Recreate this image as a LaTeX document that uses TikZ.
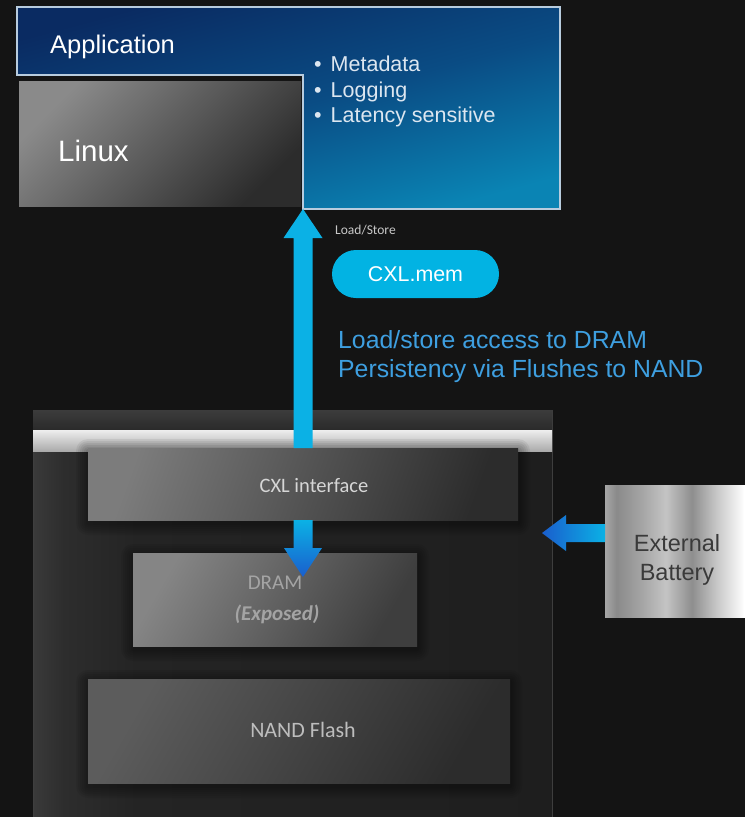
\documentclass[tikz,border=0pt]{standalone}
\usepackage{fontspec}
\setmainfont{Liberation Sans}
\newfontfamily\humanist{Carlito}
\usetikzlibrary{calc}

% palette
\definecolor{bgdark}{HTML}{141414}
\definecolor{appnavy}{HTML}{0A2B62}
\definecolor{appmid}{HTML}{0A4C84}
\definecolor{appteal}{HTML}{0A84B4}
\definecolor{appedge}{HTML}{B8CCDE}
\definecolor{bullettext}{HTML}{DCE6F0}
\definecolor{cyanflow}{HTML}{0BB1E5}
\definecolor{deepflow}{HTML}{1A5ECD}
\definecolor{pillcyan}{HTML}{02B3E3}
\definecolor{notetext}{HTML}{3E9FE0}
\definecolor{smallnote}{HTML}{C8C8C8}
\definecolor{linuxA}{HTML}{8A8A8A}
\definecolor{linuxB}{HTML}{2C2C2C}
\definecolor{chipA}{HTML}{7C7C7C}
\definecolor{chipB}{HTML}{2C2C2C}
\definecolor{dramA}{HTML}{858585}
\definecolor{dramB}{HTML}{3E3E3E}
\definecolor{nandA}{HTML}{5C5C5C}
\definecolor{nandB}{HTML}{2C2C2C}
\definecolor{chiptextA}{HTML}{D6D6D6}
\definecolor{chiptextB}{HTML}{A4A4A4}
\definecolor{chiptextC}{HTML}{BDBDBD}
\definecolor{devedge}{HTML}{3E3E3E}
\definecolor{devA}{HTML}{3A3A3A}
\definecolor{devB}{HTML}{2D2D2D}
\definecolor{devC}{HTML}{242424}
\definecolor{devD}{HTML}{1E1E1E}
\definecolor{bandtopA}{HTML}{3C3C3C}
\definecolor{bandtopB}{HTML}{2A2A2A}
\definecolor{bandlightA}{HTML}{EEEEEE}
\definecolor{bandlightB}{HTML}{ABABAB}
\definecolor{metA}{HTML}{8A8A8A}
\definecolor{metB}{HTML}{A6A6A6}
\definecolor{metC}{HTML}{C4C4C4}
\definecolor{metD}{HTML}{8E8E8E}
\definecolor{metE}{HTML}{FFFFFF}
\definecolor{batterytext}{HTML}{3A3A3A}

% enclosure body: lighter strip along the left wall
\pgfdeclarehorizontalshading{devicebody}{100bp}{%
  color(0bp)=(devA); color(25bp)=(devA); color(28bp)=(devB);
  color(35bp)=(devC); color(75bp)=(devD); color(100bp)=(devD)}
% brushed metal look of the battery pack
\pgfdeclarehorizontalshading{brushedmetal}{100bp}{%
  color(0bp)=(metB); color(25bp)=(metB); color(29bp)=(metA);
  color(38bp)=(metB); color(46bp)=(metC); color(55bp)=(metD);
  color(63bp)=(metC); color(73bp)=(metE); color(100bp)=(metE)}

% drawing layers: enclosure at the bottom, soft box shadows above it
\pgfdeclarelayer{base}
\pgfdeclarelayer{haze}
\pgfsetlayers{base,haze,main}

% soft dark halo under a named box
\newcommand\boxhaze[1]{%
  \begin{pgfonlayer}{haze}
    \foreach \s in {2,4,...,12}{%
      \fill[black, opacity=0.06, rounded corners=\s]
        ($(#1.north west)+(-\s,-\s+3)$) rectangle ($(#1.south east)+(\s,\s+3)$);}
  \end{pgfonlayer}}

\tikzset{
  slab/.style={anchor=north west, inner sep=0pt, outer sep=0pt},
  plaintext/.style={inner sep=0pt, anchor=base west},
  chiptext/.style={inner sep=0pt, anchor=base, font=\humanist\fontsize{20.5}{24}\selectfont},
  pill/.style={fill=pillcyan, rounded corners=24pt, minimum width=167, minimum height=48,
    inner sep=0pt, text=white, font=\fontsize{21.4}{25}\selectfont},
  bullet/.style={plaintext, text=bullettext, font=\fontsize{21.5}{26}\selectfont},
}

\begin{document}
\begin{tikzpicture}[x=1pt, y=-1pt]
\useasboundingbox (0,0) rectangle (745,817);

% ---- memory device enclosure ----
\begin{pgfonlayer}{base}
\fill[bgdark] (0,0) rectangle (745,817);
\node[slab, minimum width=519, minimum height=420, shade, shading=devicebody,
      draw=devedge, line width=1] (device) at (33,410) {};
\path[top color=bandtopA, bottom color=bandtopB]
  (device.north west) rectangle ($(device.north east)+(0,20)$);
\path[top color=bandlightA, bottom color=bandlightB]
  ($(device.north west)+(0,20)$) rectangle ($(device.north east)+(0,41)$);
\end{pgfonlayer}

\node[slab, minimum width=430, minimum height=72, top color=chipA, bottom color=chipB,
      shading angle=70] (cxl) at (88,448) {};
\node[slab, minimum width=284, minimum height=93, top color=dramA, bottom color=dramB,
      shading angle=60] (dram) at (133,553) {};
\node[slab, minimum width=422, minimum height=104, top color=nandA, bottom color=nandB,
      shading angle=60] (nand) at (88,679) {};
\boxhaze{cxl}
\boxhaze{dram}
\boxhaze{nand}

\node[chiptext, text=chiptextA] (cxltext) at ($(cxl.north)+(11,44)$) {CXL interface};
\node[chiptext, text=chiptextB, font=\humanist\fontsize{21}{24}\selectfont]
  (dramtext) at ($(dram.north)+(0,36)$) {DRAM};
\node[chiptext, text=chiptextB, font=\humanist\fontsize{21}{24}\selectfont\bfseries\itshape]
  (dramnote) at ($(dram.north)+(2,67)$) {(Exposed)};
\node[chiptext, text=chiptextC, font=\humanist\fontsize{22}{26}\selectfont]
  (nandtext) at ($(nand.north)+(4,58)$) {NAND Flash};

% ---- host side ----
\path[draw=appedge, line width=1.3, top color=appnavy, bottom color=appteal,
      middle color=appmid, shading angle=15]
  (17,7) -- (560,7) -- (560,209) -- (303,209) -- (303,75) -- (17,75) -- cycle;
\coordinate (appnotch) at (303,209);
\node[slab, minimum width=282, minimum height=125, top color=linuxA, bottom color=linuxB,
      shading angle=45] (linux) at (19,81) {};

\node[plaintext, text=white, font=\fontsize{25.5}{30}\selectfont] (apptext) at (50,53) {Application};
\node[plaintext, text=white, font=\fontsize{29.5}{34}\selectfont] (linuxtext) at (58,161) {Linux};
\node[bullet] (b1) at (314,71) {•\hspace{9pt}Metadata};
\node[bullet] (b2) at (314,97) {•\hspace{9pt}Logging};
\node[bullet] (b3) at (314,122) {•\hspace{9pt}Latency sensitive};

% ---- load/store path up to the host ----
\coordinate (upbase) at (appnotch |- cxl.north);
\fill[cyanflow]
  ($(upbase)+(-9.5,0)$) -- ($(appnotch)+(-9.5,29)$) -- ($(appnotch)+(-19.5,29)$) --
  (appnotch) -- ($(appnotch)+(19.5,29)$) -- ($(appnotch)+(9.5,29)$) --
  ($(upbase)+(9.5,0)$) -- cycle;

% ---- CXL interface down to DRAM ----
\coordinate (dnbase) at (appnotch |- cxl.south);
\coordinate (dntip) at ($(appnotch |- dram.north)+(0,24)$);
\path[top color=cyanflow, bottom color=deepflow]
  ($(dnbase)+(-9.5,0)$) -- ($(dntip)+(-9.5,-29)$) -- ($(dntip)+(-19,-29)$) --
  (dntip) -- ($(dntip)+(19,-29)$) -- ($(dntip)+(9.5,-29)$) --
  ($(dnbase)+(9.5,0)$) -- cycle;

\node[plaintext, text=smallnote, font=\humanist\fontsize{13.5}{16}\selectfont] (lstext) at (335,234) {Load/Store};
\node[pill] (cxlmem) at (415.5,274) {CXL.mem};
\node[plaintext, text=notetext, font=\fontsize{24.8}{29}\selectfont] (note1) at (338,348) {Load/store access to DRAM};
\node[plaintext, text=notetext, font=\fontsize{24.8}{29}\selectfont] (note2) at (338,377) {Persistency via Flushes to NAND};

% ---- external battery feeding the enclosure ----
\node[slab, minimum width=145, minimum height=132, shade, shading=brushedmetal] (battery) at (605,485) {};
\node[inner sep=0pt, anchor=base, text=batterytext, font=\fontsize{23.5}{28}\selectfont]
  (battext1) at ($(battery.north west)+(72,66)$) {External};
\node[inner sep=0pt, anchor=base, text=batterytext, font=\fontsize{23.5}{28}\selectfont]
  (battext2) at ($(battery.north west)+(72,95)$) {Battery};

\coordinate (lfbase) at ($(battery.north west)+(0,48)$);
\coordinate (lftip) at ($(device.east |- lfbase)+(-10,0)$);
\path[left color=deepflow, right color=cyanflow]
  ($(lfbase)+(0,-9)$) -- ($(lftip)+(24,-9)$) -- ($(lftip)+(24,-18)$) --
  (lftip) -- ($(lftip)+(24,18)$) -- ($(lftip)+(24,9)$) --
  ($(lfbase)+(0,9)$) -- cycle;
\end{tikzpicture}
\end{document}
